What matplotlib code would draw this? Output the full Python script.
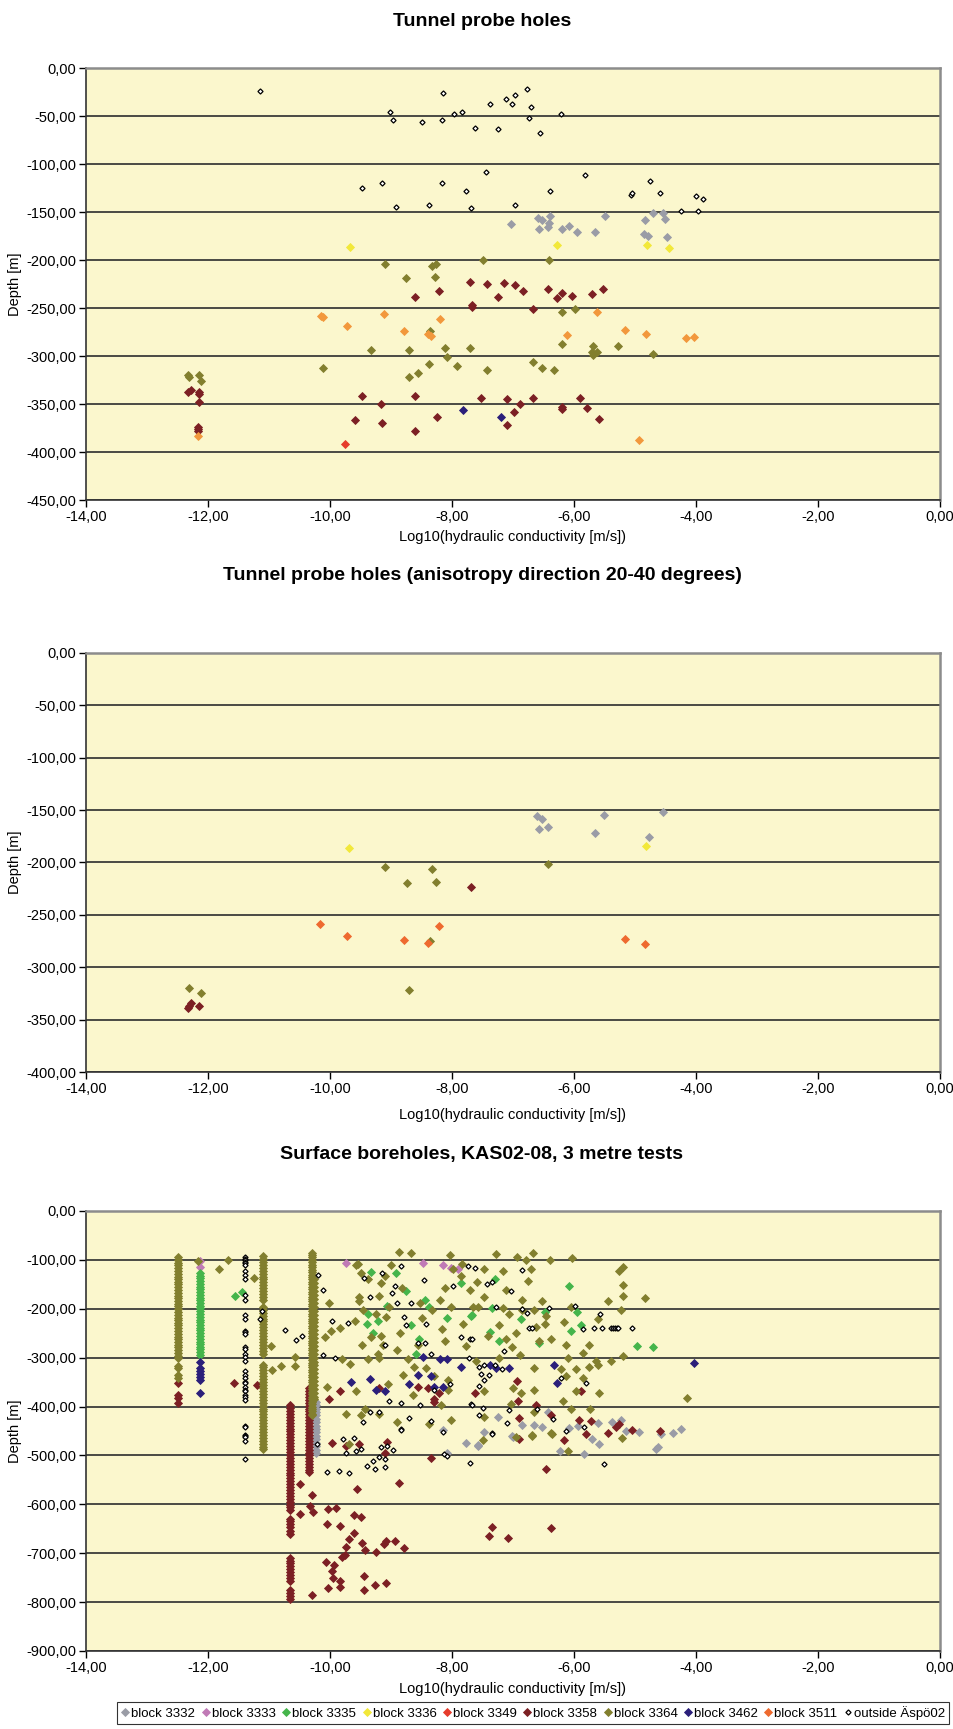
import matplotlib
matplotlib.use("Agg")
import matplotlib.pyplot as plt
from matplotlib.lines import Line2D
from matplotlib.ticker import FuncFormatter, MultipleLocator

plt.rcParams["font.family"] = ["Liberation Sans", "DejaVu Sans"]

# ---------------------------------------------------------------- series
block_names = ["block 3332", "block 3333", "block 3335", "block 3336", "block 3349",
               "block 3358", "block 3364", "block 3462", "block 3511", "outside Äspö02"]
block_colors = ["#9a9ca6", "#c07ab6", "#45b54b", "#f2e83a", "#e63c2c",
                "#7c2024", "#827f2e", "#2b1f7a", "#ee6a2f", "black"]
orange_top = "#f2983c"

titles = ["Tunnel probe holes",
          "Tunnel probe holes (anisotropy direction 20-40 degrees)",
          "Surface boreholes, KAS02-08, 3 metre tests"]
x_label = "Log10(hydraulic conductivity [m/s])"
y_label = "Depth [m]"

# ---------------------------------------------------------------- panel 1
p1_out_x = [-11.14, -9.02, -8.96, -8.49, -8.17, -8.14, -7.97, -7.84, -7.63, -7.38, -7.25,
            -7.11, -7.01, -6.96, -6.77, -6.70, -6.74, -6.56, -6.22, -7.45, -5.82, -4.75,
            -9.47, -9.14, -8.16, -7.77, -6.39, -5.07, -5.05, -4.59, -4.00, -3.88, -8.92,
            -8.38, -7.69, -6.96, -4.25, -3.96]
p1_out_y = [-24, -46, -54, -56, -54, -26, -48, -46, -62, -38, -64, -32, -37, -28, -22, -41,
            -52, -68, -48, -108, -111, -118, -125, -120, -120, -128, -128, -132, -130, -130,
            -133, -136, -145, -143, -146, -143, -149, -149]
p1_3332_x = [-7.03, -6.59, -6.52, -6.40, -6.41, -6.57, -6.42, -6.19, -6.09, -5.95, -5.65,
             -5.50, -4.83, -4.71, -4.54, -4.51, -4.85, -4.78, -4.47]
p1_3332_y = [-163, -156, -158, -154, -161, -168, -166, -168, -165, -171, -171, -154, -158,
             -151, -151, -157, -173, -175, -176]
p1_3336_x = [-9.68, -6.28, -4.81, -4.45]
p1_3336_y = [-186, -184, -184, -187]
p1_3349_x = [-9.76]
p1_3349_y = [-392]
p1_3358_x = [-7.70, -7.42, -7.14, -6.96, -6.83, -8.22, -8.60, -7.68, -7.67, -7.24, -6.67,
             -6.42, -6.19, -6.28, -6.04, -5.70, -5.53, -12.32, -12.28, -12.15, -12.15, -12.14,
             -12.17, -12.16, -12.16, -9.48, -9.17, -9.59, -9.15, -8.60, -8.60, -8.24, -7.53,
             -7.10, -6.89, -6.99, -7.10, -6.67, -6.19, -6.19, -5.90, -5.78, -5.59]
p1_3358_y = [-223, -225, -224, -226, -232, -232, -239, -247, -249, -239, -251, -230, -234,
             -240, -237, -235, -230, -337, -335, -337, -340, -348, -374, -376, -378, -342,
             -350, -367, -370, -342, -378, -364, -344, -345, -350, -358, -372, -344, -353,
             -355, -344, -354, -366]
p1_3364_x = [-9.10, -7.50, -6.41, -8.32, -8.27, -8.75, -8.28, -6.20, -5.98, -8.36, -9.33,
             -8.71, -8.12, -7.70, -8.08, -7.92, -8.38, -8.56, -8.71, -7.42, -10.12, -6.67,
             -6.52, -6.32, -6.20, -5.69, -5.71, -5.63, -5.69, -5.28, -4.70, -12.32, -12.31,
             -12.15, -12.12]
p1_3364_y = [-204, -200, -200, -206, -204, -219, -218, -254, -251, -274, -294, -294, -292,
             -292, -301, -310, -308, -318, -322, -315, -313, -306, -313, -315, -288, -290,
             -296, -296, -299, -290, -298, -320, -322, -320, -326]
p1_3462_x = [-7.82, -7.20]
p1_3462_y = [-356, -364]
p1_3511_x = [-10.14, -10.12, -9.11, -8.20, -9.72, -8.79, -8.39, -8.35, -5.63, -6.11, -5.17,
             -4.82, -4.17, -4.04, -12.16, -4.94]
p1_3511_y = [-258, -259, -256, -261, -269, -274, -277, -279, -254, -278, -273, -277, -281,
             -280, -383, -388]

# ---------------------------------------------------------------- panel 2
p2_3332_x = [-6.60, -6.52, -5.51, -4.54, -6.57, -6.42, -5.65, -4.77]
p2_3332_y = [-156, -158, -155, -152, -168, -166, -172, -176]
p2_3336_x = [-9.69, -4.82]
p2_3336_y = [-186, -184]
p2_3358_x = [-7.69, -12.31, -12.28, -12.15, -12.32]
p2_3358_y = [-223, -337, -334, -337, -339]
p2_3364_x = [-9.10, -8.32, -8.74, -8.27, -6.42, -8.36, -8.70, -12.31, -12.12]
p2_3364_y = [-204, -206, -220, -219, -201, -275, -322, -320, -325]
p2_3511_x = [-10.17, -9.72, -8.79, -8.21, -8.39, -5.16, -4.83]
p2_3511_y = [-259, -270, -274, -261, -277, -273, -278]

# ---------------------------------------------------------------- panel 3
# vertical runs of 3 m tests: one x per run, list of depths per run
p3_3364_col_x = [-12.50, -11.10, -10.30, -10.26]
p3_3364_col_y = [
    [-95, -100, -106, -111, -117, -122, -128, -134, -139, -145, -150, -156, -162, -167, -173,
     -178, -184, -190, -195, -201, -206, -212, -218, -223, -229, -234, -240, -246, -251, -257,
     -262, -268, -274, -279, -285, -290, -296, -300, -317, -322, -335, -341],
    [-92, -98, -104, -110, -116, -122, -128, -134, -140, -146, -152, -158, -164, -170, -176,
     -182, -196, -202, -208, -214, -220, -226, -232, -238, -244, -250, -256, -262, -268, -274,
     -280, -286, -293, -314, -320, -326, -332, -338, -344, -350, -356, -362, -368, -374, -380,
     -386, -392, -398, -404, -410, -416, -422, -428, -434, -440, -446, -452, -458, -464, -470,
     -476, -482, -487],
    [-85, -90, -95, -100, -105, -110, -115, -120, -125, -130, -135, -140, -145, -150, -155,
     -160, -165, -170, -175, -180, -185, -190, -195, -200, -205, -210, -215, -220, -225, -230,
     -235, -240, -245, -250, -255, -260, -265, -270, -275, -280, -285, -290, -295, -300, -305,
     -310, -315, -320, -325, -330, -335, -340, -345, -350, -355, -360, -365, -370, -375, -380,
     -385, -390, -395, -400, -405, -410, -415, -418],
    [-140, -148, -156, -164, -172, -180, -188, -196, -204, -212, -220, -228, -236, -244, -252,
     -260, -268, -276, -284, -292, -300, -308, -316, -324, -332, -340, -348, -356, -364, -372,
     -380, -385],
]
p3_3335_col_x = [-12.13]
p3_3335_col_y = [[-127, -132, -138, -143, -149, -155, -160, -166, -171, -177, -183, -188, -194,
                  -199, -205, -211, -216, -222, -227, -233, -239, -244, -250, -255, -261, -267,
                  -272, -278, -283, -289, -295]]
p3_3333_col_x = [-12.13]
p3_3333_col_y = [[-102, -114]]
p3_3462_col_x = [-12.13]
p3_3462_col_y = [[-308, -321, -327, -333, -339, -345, -373]]
p3_3358_col_x = [-12.50, -10.66, -10.35]
p3_3358_col_y = [
    [-352, -376, -383, -392],
    [-397, -403, -409, -415, -421, -427, -433, -439, -445, -451, -457, -463, -469, -475, -481,
     -487, -493, -499, -505, -511, -517, -523, -529, -535, -541, -547, -553, -559, -565, -571,
     -577, -583, -589, -595, -601, -606, -612, -629, -635, -641, -647, -654, -661, -709, -715,
     -721, -727, -733, -739, -745, -751, -756, -776, -782, -788, -793],
    [-362, -368, -374, -380, -386, -392, -398, -404, -410, -416, -422, -428, -434, -440, -446,
     -452, -458, -464, -470, -476, -482, -488, -494, -500, -506, -512, -518, -524, -530, -533],
]
p3_3332_col_x = [-10.23]
p3_3332_col_y = [[-390, -397, -404, -411, -418, -425, -432, -439, -446, -453, -460, -467, -474,
                  -481, -488, -494]]
p3_out_col_x = [-11.40]
p3_out_col_y = [[-95, -98, -101, -104, -107, -110, -123, -131, -140, -172, -182, -213, -220,
                 -245, -248, -251, -279, -283, -293, -298, -307, -328, -335, -341, -349, -352,
                 -359, -366, -369, -376, -380, -386, -439, -442, -458, -460, -463, -471, -508]]

# scattered single tests
p3_3332_x = [-8.15, -7.77, -7.58, -8.08, -7.25, -6.85, -6.65, -6.52, -6.43, -7.48, -7.01,
             -6.09, -5.94, -5.61, -5.38, -5.23, -5.15, -4.94, -4.37, -4.25, -4.57, -7.58,
             -7.00, -6.23, -5.83, -5.70, -5.59, -4.66, -4.63]
p3_3332_y = [-448, -475, -481, -494, -422, -437, -437, -442, -412, -453, -460, -444, -439,
             -433, -432, -428, -449, -453, -454, -446, -456, -479, -463, -490, -497, -467,
             -477, -486, -483]
p3_3333_x = [-9.73, -8.47, -8.14, -8.01, -7.90]
p3_3333_y = [-106, -107, -111, -116, -119]
p3_3335_x = [-11.56, -11.44, -9.32, -8.91, -9.06, -9.38, -9.21, -9.40, -9.29, -8.54, -8.59,
             -8.45, -8.37, -8.75, -7.85, -7.69, -8.67, -8.09, -7.30, -6.09, -7.34, -6.87,
             -7.68, -7.38, -7.23, -6.57, -6.48, -5.95, -5.88, -6.05, -4.97, -4.70]
p3_3335_y = [-173, -165, -125, -126, -194, -211, -224, -231, -250, -262, -292, -182, -196,
             -163, -147, -215, -234, -218, -140, -154, -199, -220, -213, -248, -265, -269,
             -206, -206, -234, -246, -276, -278]
p3_3358_x = [-11.57, -11.20, -9.84, -10.01, -8.56, -8.40, -8.30, -8.29, -7.63, -9.20, -8.21,
             -9.97, -9.73, -9.53, -9.07, -9.10, -8.34, -8.87, -9.56, -10.49, -10.29, -10.49,
             -10.33, -10.28, -10.04, -9.90, -9.61, -9.49, -10.05, -9.84, -9.61, -9.69, -9.47,
             -9.43, -9.73, -9.81, -9.76, -9.25, -9.12, -9.09, -8.94, -8.78, -10.06, -9.93,
             -9.96, -9.95, -9.84, -9.83, -10.03, -9.44, -9.44, -9.26, -9.09, -10.30, -6.94,
             -6.92, -6.63, -6.37, -5.88, -6.90, -5.91, -5.72, -5.81, -5.45, -5.31, -5.26,
             -5.05, -4.59, -6.90, -6.16, -6.46, -7.35, -7.40, -7.08, -6.38]
p3_3358_y = [-352, -356, -368, -385, -359, -363, -385, -390, -373, -363, -372, -474, -481,
             -477, -472, -494, -505, -557, -569, -559, -580, -619, -604, -616, -610, -608,
             -622, -626, -640, -644, -658, -670, -679, -694, -688, -708, -703, -697, -682,
             -674, -676, -690, -718, -724, -737, -751, -757, -769, -772, -746, -776, -764,
             -760, -785, -347, -389, -397, -418, -369, -424, -428, -430, -456, -454, -442,
             -435, -447, -449, -467, -469, -527, -647, -665, -668, -649]
p3_3364_x = [-12.17, -11.82, -11.67, -11.25, -10.96, -10.81, -10.95, -10.57, -10.58, -10.02,
             -9.57, -9.49, -9.38, -9.52, -9.52, -9.46, -9.59, -9.84, -9.99, -10.08, -9.32,
             -9.47, -9.38, -9.67, -9.80, -9.24, -9.16, -9.13, -9.22, -9.09, -9.19, -9.10,
             -9.00, -8.86, -8.90, -9.05, -8.80, -8.62, -8.42, -8.29, -8.07, -8.07, -8.18,
             -8.01, -8.37, -8.90, -9.49, -9.73, -10.05, -9.57, -9.42, -9.19, -8.82, -8.53,
             -8.32, -8.20, -8.12, -7.99, -7.85, -8.01, -7.82, -7.77, -7.71, -7.65, -9.16,
             -9.04, -8.50, -8.16, -8.12, -8.56, -8.72, -9.19, -8.64, -9.69, -8.87, -8.67,
             -8.03, -7.28, -6.94, -6.67, -6.40, -6.04, -6.78, -7.83, -9.54, -7.47, -7.17,
             -6.70, -7.59, -7.11, -6.76, -7.47, -6.85, -6.52, -7.58, -7.17, -7.07, -6.85,
             -6.65, -6.46, -6.48, -6.62, -6.16, -6.05, -5.61, -5.45, -5.23, -5.26, -5.19,
             -5.20, -5.20, -4.84, -7.23, -7.41, -6.95, -7.01, -6.89, -7.11, -6.37, -6.57,
             -6.13, -6.10, -5.86, -5.76, -5.64, -5.61, -5.39, -5.20, -5.76, -5.86, -5.97,
             -6.13, -6.65, -6.21, -7.23, -7.60, -7.00, -6.87, -7.47, -6.65, -5.97, -5.59,
             -6.18, -6.05, -5.74, -7.03, -6.65, -7.47, -6.69, -6.37, -4.14, -7.49, -6.95,
             -6.69, -6.36, -6.10, -5.22]
p3_3364_y = [-102, -119, -100, -138, -276, -317, -326, -299, -317, -188, -110, -126, -140,
             -176, -185, -203, -224, -239, -246, -257, -258, -274, -303, -312, -302, -210,
             -255, -274, -292, -217, -174, -133, -111, -250, -285, -354, -335, -319, -321,
             -338, -345, -366, -396, -428, -435, -432, -418, -415, -359, -369, -404, -415,
             -158, -189, -203, -182, -158, -119, -133, -196, -231, -276, -161, -196, -147,
             -196, -219, -241, -265, -274, -303, -300, -377, -476, -83, -85, -90, -87, -95,
             -85, -100, -96, -100, -109, -109, -119, -123, -118, -146, -161, -144, -175,
             -182, -185, -196, -199, -211, -203, -203, -215, -231, -237, -227, -196, -220,
             -185, -203, -123, -114, -151, -174, -178, -234, -255, -250, -279, -294, -262,
             -262, -265, -274, -300, -290, -274, -307, -314, -307, -297, -319, -342, -324,
             -338, -321, -324, -300, -307, -362, -373, -369, -367, -369, -373, -389, -406,
             -406, -394, -411, -422, -458, -454, -383, -468, -463, -460, -456, -490, -465]
p3_3462_x = [-8.48, -8.19, -8.09, -7.86, -9.65, -9.35, -8.56, -8.34, -8.70, -8.29, -8.15,
             -9.25, -9.10, -7.38, -7.28, -7.06, -6.32, -6.28, -4.04]
p3_3462_y = [-298, -303, -302, -319, -349, -343, -336, -338, -354, -359, -359, -366, -369,
             -315, -322, -321, -314, -351, -310]
p3_out_x = [-11.11, -11.15, -10.73, -10.56, -10.46, -10.19, -10.11, -9.97, -9.71, -10.11,
            -9.92, -9.45, -9.35, -9.15, -8.98, -8.90, -8.94, -8.83, -8.78, -8.76, -8.67,
            -8.46, -8.42, -8.56, -8.45, -8.34, -7.99, -7.86, -7.70, -7.74, -7.72, -8.04,
            -8.30, -9.03, -8.83, -8.53, -7.69, -9.34, -9.19, -9.46, -8.83, -8.70, -8.34,
            -9.10, -10.21, -10.05, -9.86, -9.69, -9.78, -9.61, -9.73, -9.58, -9.50, -9.40,
            -9.29, -9.26, -9.20, -9.10, -9.10, -9.06, -8.97, -9.17, -8.83, -8.15, -8.13,
            -8.08, -7.71, -7.63, -6.85, -7.43, -7.34, -7.03, -7.28, -6.85, -6.77, -6.41,
            -5.99, -5.58, -6.74, -6.69, -5.85, -5.68, -5.54, -5.39, -5.36, -5.33, -5.30,
            -5.28, -5.05, -7.14, -7.68, -7.56, -7.47, -7.30, -7.18, -7.52, -7.40, -7.47,
            -7.56, -6.21, -5.80, -7.68, -7.49, -7.06, -7.56, -6.60, -6.35, -7.10, -7.34,
            -6.13, -5.83, -7.34, -5.51]
p3_out_y = [-204, -220, -243, -264, -256, -131, -161, -226, -229, -295, -300, -137, -176,
            -126, -168, -188, -153, -113, -217, -234, -189, -142, -231, -269, -269, -293,
            -154, -258, -262, -113, -300, -354, -366, -389, -392, -397, -395, -411, -412,
            -432, -446, -424, -430, -274, -477, -534, -531, -536, -467, -465, -494, -491,
            -486, -521, -512, -528, -503, -507, -524, -480, -489, -482, -448, -453, -498,
            -501, -515, -116, -121, -149, -146, -163, -196, -201, -208, -199, -194, -211,
            -239, -239, -241, -239, -239, -239, -239, -239, -239, -239, -239, -286, -262,
            -319, -315, -314, -324, -333, -336, -345, -358, -342, -352, -396, -402, -408,
            -417, -404, -426, -434, -455, -449, -442, -456, -518]


def expand(col_x, col_y):
    xs, ys = [], []
    for x, depths in zip(col_x, col_y):
        xs += [x] * len(depths)
        ys += depths
    return xs, ys


def comma(v, pos):
    return f"{v:.2f}".replace(".", ",")


W, H = 954, 1729
fig = plt.figure(figsize=(W / 100, H / 100), dpi=100)

# axes boxes in pixels: top, bottom, y-min, y-step, x-label offset
boxes = [(68, 500, -450, 50, 30), (653, 1072, -400, 50, 36), (1211, 1651, -900, 100, 31)]
title_y = [21, 575, 1154]
axes = []
for (top, bot, ymin, ystep, xoff), ty, title in zip(boxes, title_y, titles):
    ax = fig.add_axes([86 / W, 1 - bot / H, 854 / W, (bot - top) / H])
    ax.set_facecolor("#fbf7cd")
    ax.set_xlim(-14, 0)
    ax.set_ylim(ymin, 0)
    ax.xaxis.set_major_locator(MultipleLocator(2))
    ax.yaxis.set_major_locator(MultipleLocator(ystep))
    ax.xaxis.set_major_formatter(FuncFormatter(comma))
    ax.yaxis.set_major_formatter(FuncFormatter(comma))
    ax.tick_params(direction="out", length=5, width=1, labelsize=10.5, pad=2)
    ax.grid(axis="y", color="#4a4a44", linewidth=1.4)
    ax.set_axisbelow(True)
    for side in ["top", "right"]:
        ax.spines[side].set_color("#8c8c8c")
        ax.spines[side].set_linewidth(1.8)
    for side in ["left", "bottom"]:
        ax.spines[side].set_color("#333333")
        ax.spines[side].set_linewidth(1.2)
    ax.set_xlabel(x_label, fontsize=10.5)
    ax.xaxis.set_label_coords(0.5, -xoff / (bot - top))
    ax.set_ylabel(y_label, fontsize=10.5)
    ax.yaxis.set_label_coords(-64 / 854, 0.5)
    fig.text(482 / W, 1 - ty / H, title, ha="center", va="center",
             fontsize=14, fontweight="bold")
    axes.append(ax)

filled = dict(marker="D", linestyle="none", markersize=4.2, markeredgewidth=0.6)
hollow = dict(marker="D", linestyle="none", markersize=2.6, markeredgewidth=0.9,
              markerfacecolor="white", markeredgecolor="black")


def dots(ax, x, y, color):
    ax.plot(x, y, color=color, markeredgecolor=color, **filled)


c = dict(zip(block_names, block_colors))

# panel 1
ax = axes[0]
dots(ax, p1_3332_x, p1_3332_y, c["block 3332"])
dots(ax, p1_3336_x, p1_3336_y, c["block 3336"])
dots(ax, p1_3349_x, p1_3349_y, c["block 3349"])
dots(ax, p1_3358_x, p1_3358_y, c["block 3358"])
dots(ax, p1_3364_x, p1_3364_y, c["block 3364"])
dots(ax, p1_3462_x, p1_3462_y, c["block 3462"])
dots(ax, p1_3511_x, p1_3511_y, orange_top)
ax.plot(p1_out_x, p1_out_y, **hollow)

# panel 2
ax = axes[1]
dots(ax, p2_3332_x, p2_3332_y, c["block 3332"])
dots(ax, p2_3336_x, p2_3336_y, c["block 3336"])
dots(ax, p2_3358_x, p2_3358_y, c["block 3358"])
dots(ax, p2_3364_x, p2_3364_y, c["block 3364"])
dots(ax, p2_3511_x, p2_3511_y, c["block 3511"])

# panel 3
ax = axes[2]
for name, cx, cy, sx, sy in [
    ("block 3332", p3_3332_col_x, p3_3332_col_y, p3_3332_x, p3_3332_y),
    ("block 3333", p3_3333_col_x, p3_3333_col_y, p3_3333_x, p3_3333_y),
    ("block 3335", p3_3335_col_x, p3_3335_col_y, p3_3335_x, p3_3335_y),
    ("block 3358", p3_3358_col_x, p3_3358_col_y, p3_3358_x, p3_3358_y),
    ("block 3364", p3_3364_col_x, p3_3364_col_y, p3_3364_x, p3_3364_y),
    ("block 3462", p3_3462_col_x, p3_3462_col_y, p3_3462_x, p3_3462_y),
]:
    xs, ys = expand(cx, cy)
    dots(ax, xs + sx, ys + sy, c[name])
xs, ys = expand(p3_out_col_x, p3_out_col_y)
ax.plot(xs + p3_out_x, ys + p3_out_y, **hollow)

# legend
handles = []
for name, color in zip(block_names, block_colors):
    if name.startswith("outside"):
        handles.append(Line2D([], [], label=name, **hollow))
    else:
        handles.append(Line2D([], [], label=name, color=color, markeredgecolor=color, **filled))
leg = fig.legend(handles=handles, loc="center", bbox_to_anchor=(533 / W, 1 - 1713 / H),
                 ncol=10, fontsize=9.5, frameon=True, fancybox=False, handlelength=0.7,
                 handletextpad=0.1, columnspacing=0.45, borderpad=0.3, borderaxespad=0)
leg.get_frame().set_edgecolor("black")
leg.get_frame().set_linewidth(0.8)

fig.savefig("out.png", dpi=100)
